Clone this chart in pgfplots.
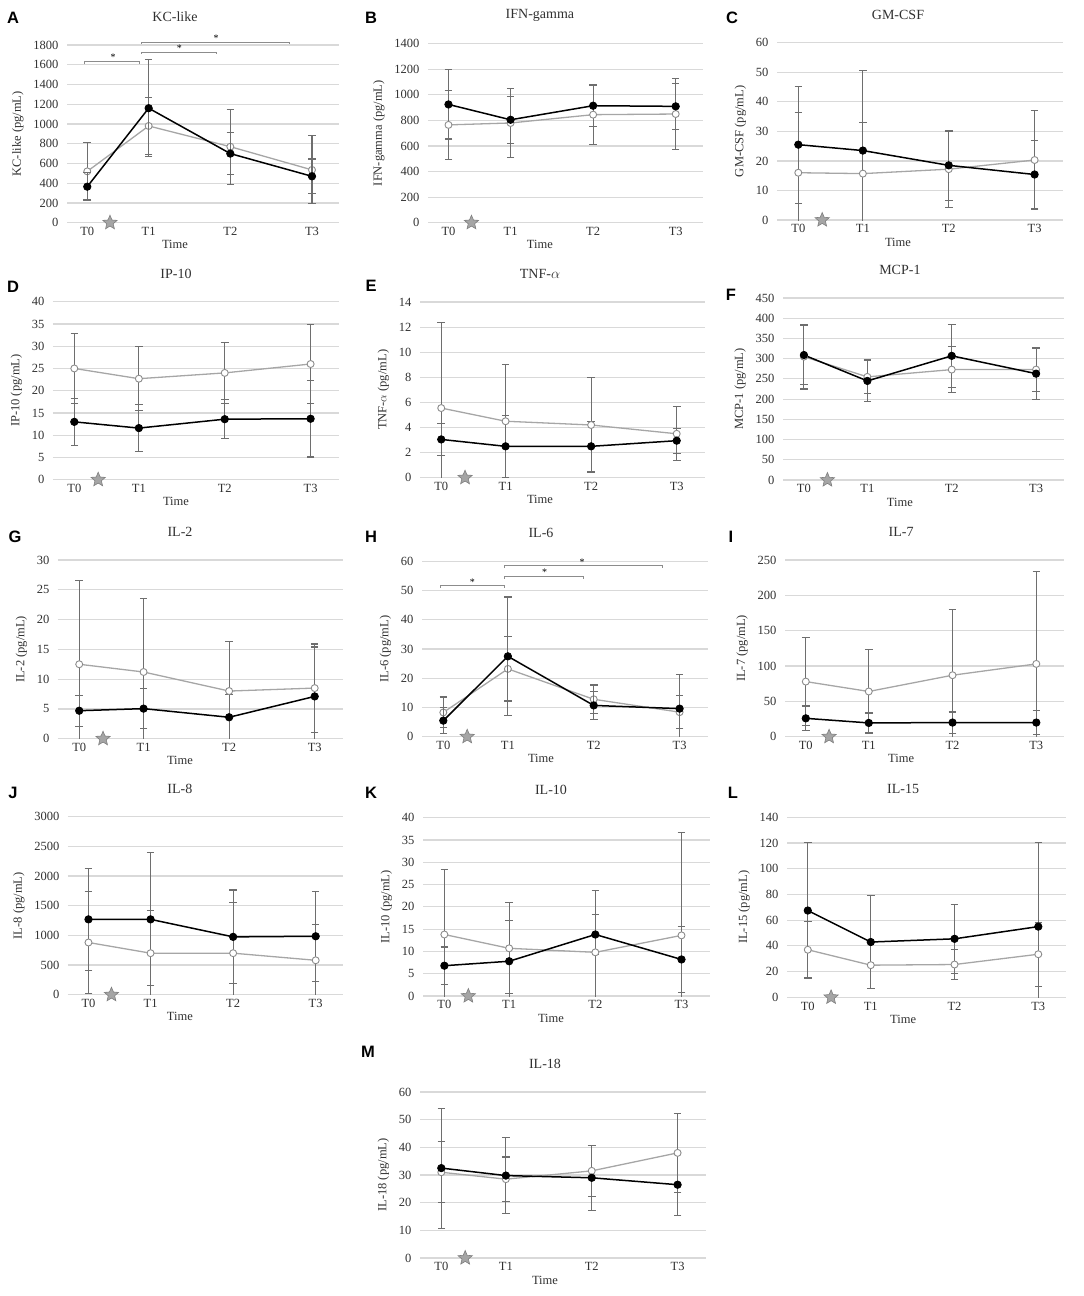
\documentclass[border=0pt]{standalone}
\usepackage{fontspec}
\setmainfont{Liberation Serif}
\newfontfamily\labfont{Liberation Sans}
\usepackage{pgfplots}
\pgfplotsset{compat=1.18}
\definecolor{gridgray}{HTML}{D9D9D9}
\definecolor{errgray}{HTML}{6E6E6E}
\definecolor{linegray}{HTML}{A6A6A6}
\definecolor{mkgray}{HTML}{8C8C8C}
\definecolor{starfill}{HTML}{A5A5A5}
\definecolor{stardraw}{HTML}{7F7F7F}
\definecolor{txtgray}{HTML}{303030}
\definecolor{brgray}{HTML}{8C8C8C}
\pgfdeclareplotmark{fstar}{%
  \pgfpathmoveto{\pgfpointpolar{90}{\pgfplotmarksize}}%
  \pgfpathlineto{\pgfpointpolar{126}{0.45\pgfplotmarksize}}%
  \pgfpathlineto{\pgfpointpolar{162}{\pgfplotmarksize}}%
  \pgfpathlineto{\pgfpointpolar{198}{0.45\pgfplotmarksize}}%
  \pgfpathlineto{\pgfpointpolar{234}{\pgfplotmarksize}}%
  \pgfpathlineto{\pgfpointpolar{270}{0.45\pgfplotmarksize}}%
  \pgfpathlineto{\pgfpointpolar{306}{\pgfplotmarksize}}%
  \pgfpathlineto{\pgfpointpolar{342}{0.45\pgfplotmarksize}}%
  \pgfpathlineto{\pgfpointpolar{18}{\pgfplotmarksize}}%
  \pgfpathlineto{\pgfpointpolar{54}{0.45\pgfplotmarksize}}%
  \pgfpathclose
  \pgfusepathqfillstroke
}
\pgfplotsset{
  panel/.style={
    scale only axis, anchor=south west,
    xmin=-0.33, xmax=4.1, ymin=0,
    xtick={0,1,2.33,3.66}, xticklabels={T0,T1,T2,T3},
    axis line style={draw=none},
    ymajorgrids,
    major grid style={gridgray, line width=1.2pt},
    major tick length=0pt,
    scaled y ticks=false,
    /pgf/number format/assume math mode=true,
    /pgf/number format/1000 sep={},
    tick label style={font=\fontsize{12.5}{14}\selectfont, text=txtgray},
    yticklabel style={xshift=-5pt},
    label style={font=\fontsize{12.5}{14}\selectfont, text=txtgray},
    ylabel style={yshift=3pt},
    title style={font=\fontsize{14}{16}\selectfont, text=txtgray, at={(#1,1)}, anchor=center, yshift=22pt},
    xlabel={Time},
    xlabel style={at={(#1,0)}, anchor=center, yshift=-22pt},
    xticklabel style={yshift=-1pt},
  },
  blk/.style={black, line width=1.5pt, mark=*, mark size=3.7pt,
    mark options={solid, fill=black, draw=black, line width=0.8pt},
    error bars/.cd, y dir=both, y explicit,
    error bar style={errgray, line width=1.1pt},
    error mark options={rotate=90, errgray, mark size=3.8pt, line width=1.1pt}},
  gry/.style={linegray, line width=1.3pt, mark=*, mark size=3.5pt,
    mark options={solid, fill=white, draw=mkgray, line width=0.9pt},
    error bars/.cd, y dir=both, y explicit,
    error bar style={errgray, line width=1.1pt},
    error mark options={rotate=90, errgray, mark size=3.8pt, line width=1.1pt}},
  starm/.style={only marks, mark=fstar, mark size=7.5pt,
    mark options={fill=starfill, draw=stardraw, line width=0.6pt}},
}
\tikzset{br/.style={brgray, line width=0.9pt},
  ast/.style={font=\fontsize{10}{11}\selectfont, inner sep=0pt},
  plab/.style={font=\labfont\bfseries\fontsize{16.5}{18}\selectfont}}
\begin{document}
\begin{tikzpicture}
\path[use as bounding box] (0,0) rectangle (1084pt,-1296pt);
% ---------------- A
\begin{axis}[panel=0.397, at={(67pt,-222.7pt)}, width=272pt, height=177.7pt,
  ymax=1800, ytick distance=200, title={KC-like}, ylabel={KC-like (pg/mL)}, clip mode=individual]
\addplot[gry] coordinates {(0,520) +- (0,290) (1,980) +- (0,290) (2.33,770) +- (0,380) (3.66,535) +- (0,345)};
\addplot[blk] coordinates {(0,365) +- (0,140) (1,1160) +- (0,490) (2.33,700) +- (0,210) (3.66,470) +- (0,175)};
\addplot[starm] coordinates {(0.37,0)};
\draw[br] (axis cs:-0.05,1604) |- (axis cs:0.85,1638) -- (axis cs:0.85,1604);
\draw[br] (axis cs:0.89,1709) |- (axis cs:2.1,1726) -- (axis cs:2.1,1709);
\draw[br] (axis cs:0.89,1813) |- (axis cs:3.3,1830) -- (axis cs:3.3,1813);
\node[ast] at (axis cs:0.42,1672) {*};
\node[ast] at (axis cs:1.5,1765) {*};
\node[ast] at (axis cs:2.1,1870) {*};
\end{axis}
% ---------------- B
\begin{axis}[panel=0.407, at={(428pt,-222.7pt)}, width=275pt, height=179pt,
  ymax=1400, ytick distance=200, title={IFN-gamma}, ylabel={IFN-gamma (pg/mL)}]
\addplot[gry] coordinates {(0,765) +- (0,270) (1,780) +- (0,272) (2.33,845) +- (0,230) (3.66,850) +- (0,275)};
\addplot[blk] coordinates {(0,925) +- (0,270) (1,805) +- (0,185) (2.33,915) +- (0,165) (3.66,910) +- (0,178)};
\addplot[starm] coordinates {(0.37,0)};
\end{axis}
% ---------------- C
\begin{axis}[panel=0.423, at={(777pt,-220pt)}, width=286pt, height=177.3pt,
  ymax=60, ytick distance=10, title={GM-CSF}, ylabel={GM-CSF (pg/mL)}]
\addplot[gry] coordinates {(0,16) +- (0,20.3) (1,15.7) +- (0,17.4) (2.33,17.2) +- (0,12.9) (3.66,20.3) +- (0,16.7)};
\addplot[blk] coordinates {(0,25.5) +- (0,19.8) (1,23.5) +- (0,27) (2.33,18.5) +- (0,11.9) (3.66,15.4) +- (0,11.5)};
\addplot[starm] coordinates {(0.37,0)};
\end{axis}
% ---------------- D
\begin{axis}[panel=0.43, at={(53pt,-479.7pt)}, width=286pt, height=178pt,
  ymax=40, ytick distance=5, title={IP-10}, ylabel={IP-10 (pg/mL)}]
\addplot[gry] coordinates {(0,25) +- (0,7.8) (1,22.7) +- (0,7.2) (2.33,24) +- (0,6.9) (3.66,26) +- (0,8.8)};
\addplot[blk] coordinates {(0,13) +- (0,5.3) (1,11.6) +- (0,5.2) (2.33,13.6) +- (0,4.4) (3.66,13.7) +- (0,8.6)};
\addplot[starm] coordinates {(0.37,0)};
\end{axis}
% ---------------- E
\begin{axis}[panel=0.421, at={(420pt,-477.7pt)}, width=285pt, height=175.7pt,
  ymax=14, ytick distance=2, title={TNF-$\alpha$}, ylabel={TNF-$\alpha$ (pg/mL)}]
\addplot[gry] coordinates {(0,5.55) +- (0,6.8) (1,4.5) +- (0,4.55) (2.33,4.2) +- (0,3.75) (3.66,3.5) +- (0,2.15)};
\addplot[blk] coordinates {(0,3.05) +- (0,1.25) (1,2.5) +- (0,2.45) (2.33,2.5) +- (0,2.0) (3.66,2.95) +- (0,1.0)};
\addplot[starm] coordinates {(0.37,0)};
\end{axis}
% ---------------- F
\begin{axis}[panel=0.416, at={(783pt,-480pt)}, width=281pt, height=182pt,
  ymax=450, ytick distance=50, title={MCP-1}, ylabel={MCP-1 (pg/mL)}]
\addplot[gry] coordinates {(0,305) +- (0,80) (1,255) +- (0,42) (2.33,273) +- (0,57) (3.66,273) +- (0,55)};
\addplot[blk] coordinates {(0,309) +- (0,72) (1,245) +- (0,50) (2.33,307) +- (0,78) (3.66,263) +- (0,63)};
\addplot[starm] coordinates {(0.37,0)};
\end{axis}
% ---------------- G
\begin{axis}[panel=0.428, at={(58pt,-738.7pt)}, width=285pt, height=178.7pt,
  ymax=30, ytick distance=5, title={IL-2}, ylabel={IL-2 (pg/mL)}]
\addplot[gry] coordinates {(0,12.5) +- (0,14) (1,11.2) +- (0,12.3) (2.33,8.0) +- (0,8.3) (3.66,8.5) +- (0,7.4)};
\addplot[blk] coordinates {(0,4.7) +- (0,2.6) (1,5.05) +- (0,3.35) (2.33,3.6) +- (0,3.8) (3.66,7.1) +- (0,8.3)};
\addplot[starm] coordinates {(0.37,0)};
\end{axis}
% ---------------- H
\begin{axis}[panel=0.416, at={(422pt,-736.7pt)}, width=286pt, height=175.4pt,
  ymax=60, ytick distance=10, title={IL-6}, ylabel={IL-6 (pg/mL)}, clip mode=individual]
\addplot[gry] coordinates {(0,8.3) +- (0,5.3) (1,23.2) +- (0,11) (2.33,12.8) +- (0,4.9) (3.66,8.4) +- (0,5.7)};
\addplot[blk] coordinates {(0,5.5) +- (0,4.4) (1,27.5) +- (0,20.3) (2.33,10.7) +- (0,4.9) (3.66,9.6) +- (0,11.6)};
\addplot[starm] coordinates {(0.37,0)};
\draw[br] (axis cs:-0.04,50.9) |- (axis cs:0.94,51.9) -- (axis cs:0.94,50.9);
\draw[br] (axis cs:0.94,54.1) |- (axis cs:2.17,54.9) -- (axis cs:2.17,54.1);
\draw[br] (axis cs:0.94,57.7) |- (axis cs:3.4,58.5) -- (axis cs:3.4,57.7);
\node[ast] at (axis cs:0.45,53.0) {*};
\node[ast] at (axis cs:1.57,56.2) {*};
\node[ast] at (axis cs:2.15,59.8) {*};
\end{axis}
% ---------------- I
\begin{axis}[panel=0.416, at={(785pt,-736.7pt)}, width=279pt, height=176.7pt,
  ymax=250, ytick distance=50, title={IL-7}, ylabel={IL-7 (pg/mL)}]
\addplot[gry] coordinates {(0,78) +- (0,62) (1,64) +- (0,60) (2.33,87) +- (0,93) (3.66,103) +- (0,131)};
\addplot[blk] coordinates {(0,26) +- (0,17.5) (1,19.5) +- (0,14) (2.33,20) +- (0,15) (3.66,20) +- (0,17.5)};
\addplot[starm] coordinates {(0.37,0)};
\end{axis}
% ---------------- J
\begin{axis}[panel=0.407, at={(68pt,-994.7pt)}, width=275pt, height=178pt,
  ymax=3000, ytick distance=500, title={IL-8}, ylabel={IL-8 (pg/mL)}]
\addplot[gry] coordinates {(0,880) +- (0,865) (1,700) +- (0,720) (2.33,700) +- (0,860) (3.66,580) +- (0,610)};
\addplot[blk] coordinates {(0,1270) +- (0,860) (1,1270) +- (0,1120) (2.33,975) +- (0,790) (3.66,985) +- (0,760)};
\addplot[starm] coordinates {(0.37,0)};
\end{axis}
% ---------------- K
\begin{axis}[panel=0.446, at={(423pt,-996pt)}, width=287pt, height=178.3pt,
  ymax=40, ytick distance=5, title={IL-10}, ylabel={IL-10 (pg/mL)}]
\addplot[gry] coordinates {(0,13.8) +- (0,14.6) (1,10.7) +- (0,10.2) (2.33,9.8) +- (0,13.8) (3.66,13.6) +- (0,23)};
\addplot[blk] coordinates {(0,6.8) +- (0,4.2) (1,7.8) +- (0,9.2) (2.33,13.8) +- (0,4.4) (3.66,8.2) +- (0,7.4)};
\addplot[starm] coordinates {(0.37,0)};
\end{axis}
% ---------------- L
\begin{axis}[panel=0.416, at={(787pt,-997.3pt)}, width=279pt, height=180pt,
  ymax=140, ytick distance=20, title={IL-15}, ylabel={IL-15 (pg/mL)}]
\addplot[gry] coordinates {(0,37) +- (0,22) (1,25) +- (0,18) (2.33,25.5) +- (0,11.5) (3.66,33.5) +- (0,25)};
\addplot[blk] coordinates {(0,67.5) +- (0,53) (1,43) +- (0,36) (2.33,45.5) +- (0,27) (3.66,55) +- (0,65.5)};
\addplot[starm] coordinates {(0.37,0)};
\end{axis}
% ---------------- M
\begin{axis}[panel=0.437, at={(420pt,-1258pt)}, width=286pt, height=166pt,
  ymax=60, ytick distance=10, title={IL-18}, ylabel={IL-18 (pg/mL)}]
\addplot[gry] coordinates {(0,31) +- (0,11) (1,28.5) +- (0,8) (2.33,31.5) +- (0,9.2) (3.66,38) +- (0,14.2)};
\addplot[blk] coordinates {(0,32.5) +- (0,21.7) (1,29.8) +- (0,13.7) (2.33,29) +- (0,11.8) (3.66,26.5) +- (0,11)};
\addplot[starm] coordinates {(0.37,0)};
\end{axis}
% panel letters
\node[plab] at (13pt,-18pt) {A};
\node[plab] at (371pt,-18pt) {B};
\node[plab] at (732pt,-18pt) {C};
\node[plab] at (13pt,-287pt) {D};
\node[plab] at (371pt,-286pt) {E};
\node[plab] at (731pt,-295pt) {F};
\node[plab] at (15pt,-537pt) {G};
\node[plab] at (371pt,-537pt) {H};
\node[plab] at (731pt,-537pt) {I};
\node[plab] at (13pt,-793pt) {J};
\node[plab] at (371pt,-793pt) {K};
\node[plab] at (733pt,-793pt) {L};
\node[plab] at (368pt,-1052pt) {M};
\end{tikzpicture}
\end{document}
